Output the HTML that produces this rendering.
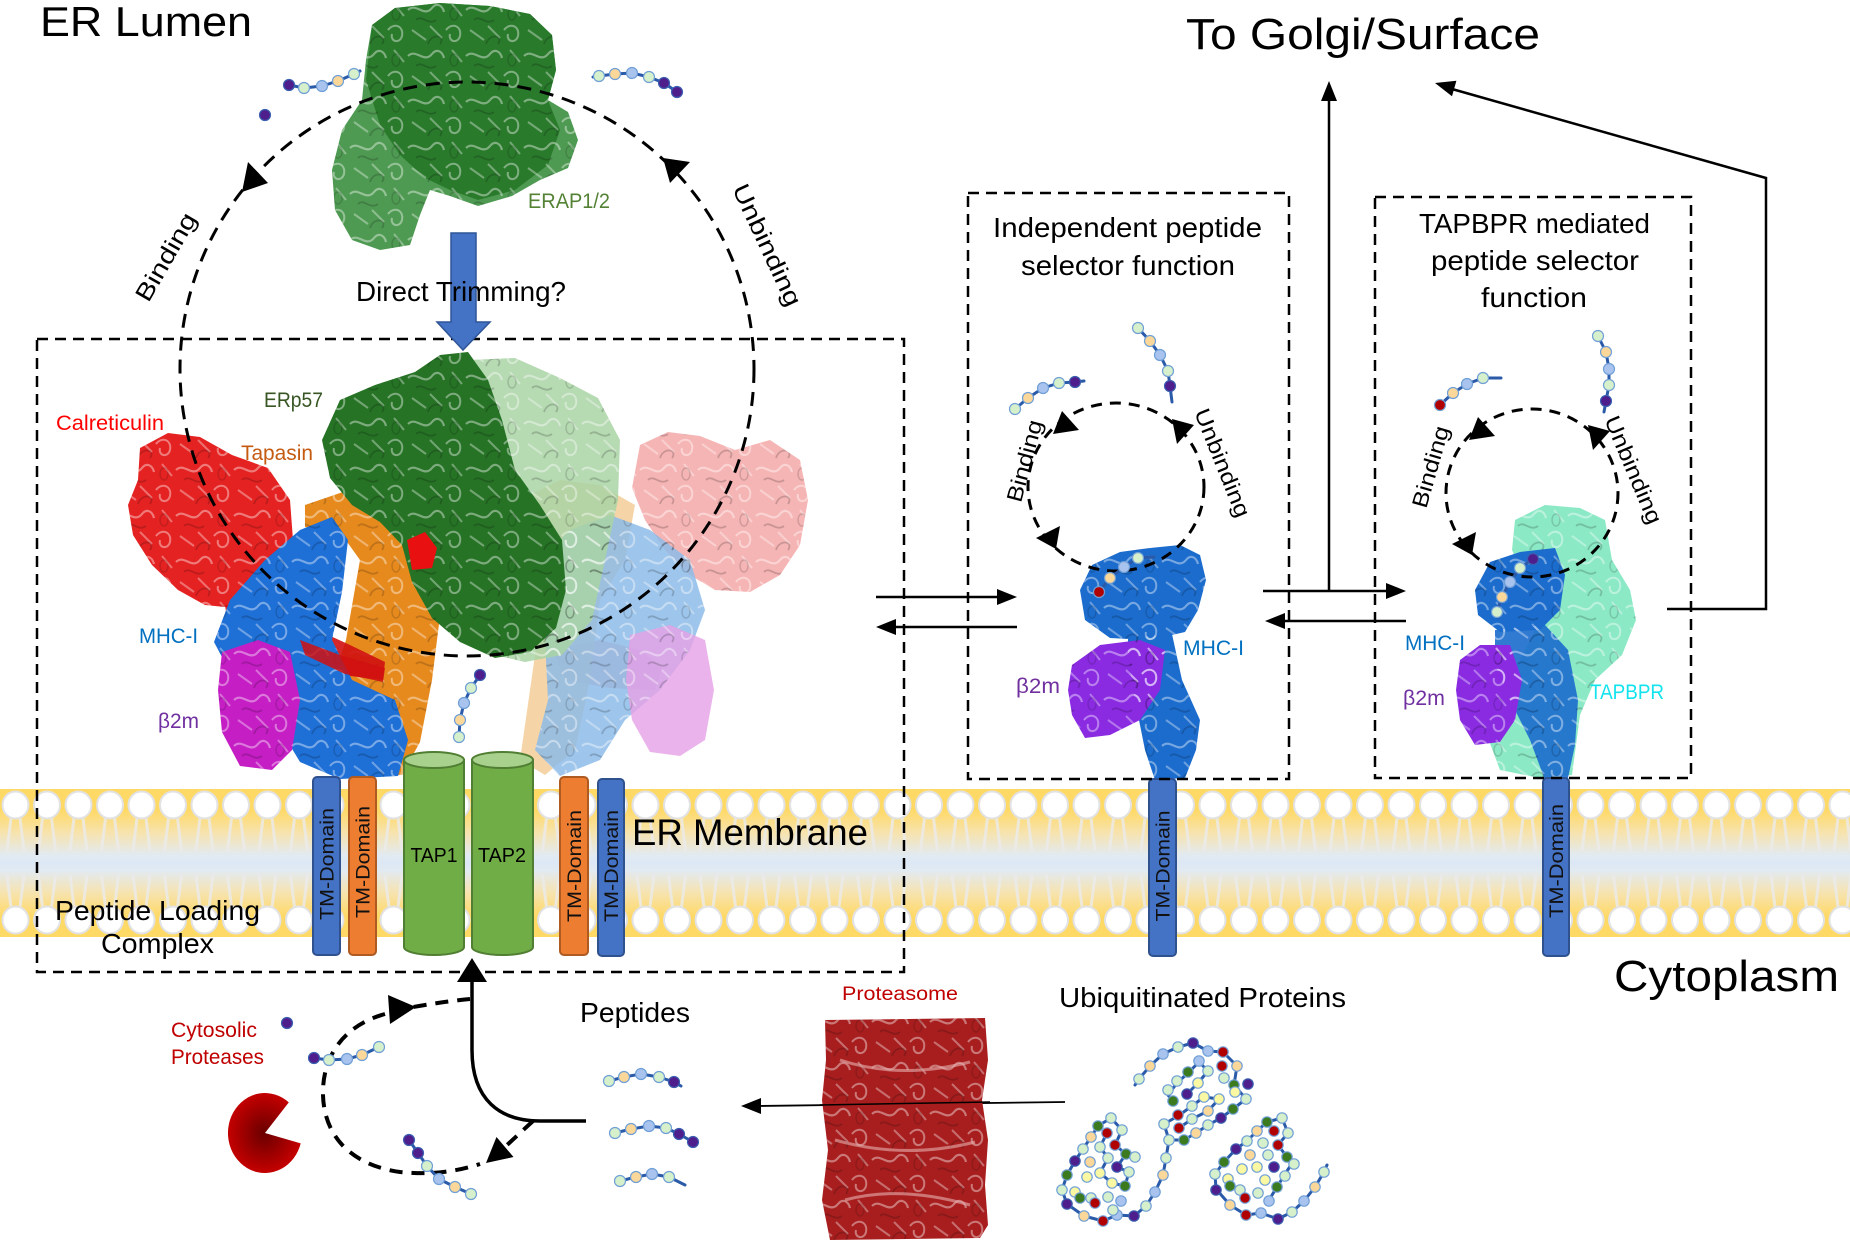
<!DOCTYPE html>
<html><head><meta charset="utf-8"><style>
html,body{margin:0;padding:0;background:#fff;}
svg{display:block;}
.lg{fill:#d6f0cc;stroke:#6f9fd6;stroke-width:1.2}
.pe{fill:#fbd89a;stroke:#6f9fd6;stroke-width:1.2}
.lb{fill:#a9c3ef;stroke:#6f9fd6;stroke-width:1.2}
.pu{fill:#4e1f8c;stroke:#3a5fb0;stroke-width:1.2}
.rd{fill:#b00000;stroke:#6f9fd6;stroke-width:1.2}
.dg{fill:#3b7a1f;stroke:#6f9fd6;stroke-width:1.2}
.ye{fill:#fbf8a4;stroke:#6f9fd6;stroke-width:1.2}
.ch{fill:none;stroke:#2a5aa8;stroke-width:3;stroke-linecap:round;stroke-linejoin:round}
.t{font-family:"Liberation Sans",sans-serif;}
</style></head><body>
<svg xmlns="http://www.w3.org/2000/svg" width="1850" height="1242" viewBox="0 0 1850 1242">
<defs>
<linearGradient id="mem" x1="0" y1="0" x2="0" y2="1">
<stop offset="0" stop-color="#ffd966"/><stop offset="0.14" stop-color="#ffd966"/>
<stop offset="0.3" stop-color="#f6e3b0"/><stop offset="0.45" stop-color="#e2eaf2"/>
<stop offset="0.5" stop-color="#dce8f5"/><stop offset="0.55" stop-color="#e2eaf2"/>
<stop offset="0.7" stop-color="#f6e3b0"/><stop offset="0.86" stop-color="#ffd966"/>
<stop offset="1" stop-color="#ffd966"/>
</linearGradient>
<pattern id="lip" patternUnits="userSpaceOnUse" x="0" y="789" width="31.5" height="148">
<line x1="11" y1="29" x2="7" y2="62" stroke="#ebebeb" stroke-width="3" opacity="0.8"/>
<line x1="20" y1="29" x2="24" y2="62" stroke="#ebebeb" stroke-width="3" opacity="0.8"/>
<line x1="11" y1="118" x2="7" y2="86" stroke="#ebebeb" stroke-width="3" opacity="0.8"/>
<line x1="20" y1="118" x2="24" y2="86" stroke="#ebebeb" stroke-width="3" opacity="0.8"/>
<ellipse cx="15.5" cy="16" rx="13" ry="13.5" fill="#fff" stroke="#e2e2e2" stroke-width="2"/>
<ellipse cx="15.5" cy="131" rx="13" ry="13.5" fill="#fff" stroke="#e2e2e2" stroke-width="2"/>
</pattern>
<pattern id="tex" patternUnits="userSpaceOnUse" width="58" height="46">
<path d="M2,10 C10,2 18,18 26,8 C30,3 36,4 38,12" fill="none" stroke="#fff" stroke-width="2.2" opacity="0.4"/>
<path d="M40,30 C46,22 56,26 54,36 C52,44 42,42 44,34" fill="none" stroke="#fff" stroke-width="2" opacity="0.4"/>
<path d="M6,30 L20,40 M24,26 L36,38 M46,4 L56,16" fill="none" stroke="#fff" stroke-width="2" opacity="0.35"/>
<path d="M10,20 C16,14 22,26 30,20 M34,44 C40,36 26,32 22,44" fill="none" stroke="#000" stroke-width="1.8" opacity="0.18"/>
<ellipse cx="48" cy="14" rx="4" ry="6" fill="none" stroke="#000" stroke-width="1.5" opacity="0.15"/>
</pattern>
<radialGradient id="pac" cx="0.5" cy="0.5" r="0.5">
<stop offset="0" stop-color="#6a0000"/><stop offset="1" stop-color="#c40000"/>
</radialGradient>
<path id="erap" d="M372,25 L395,8 L440,3 L490,6 L530,14 L552,35 L556,70 L548,100 L568,112 L578,140 L568,168 L540,180 L512,196 L478,206 L450,196 L430,190 L420,215 L410,245 L380,250 L352,240 L335,210 L332,170 L342,130 L362,100 L366,60 Z"/>
<path id="erapd" d="M372,25 L395,8 L440,3 L490,6 L530,14 L552,35 L556,70 L548,100 L560,130 L548,165 L515,190 L478,200 L450,190 L425,178 L400,155 L380,125 L366,80 Z"/>
<path id="calL" d="M140,448 L168,433 L200,437 L232,455 L268,468 L290,500 L293,540 L282,575 L262,598 L235,608 L205,605 L178,590 L152,565 L133,535 L128,505 L138,480 Z"/>
<path id="calB" d="M225,605 L255,603 L300,622 L350,645 L385,662 L383,680 L350,676 L300,658 L255,640 L228,625 Z"/>
<path id="erp" d="M340,400 L375,385 L415,372 L440,355 L468,352 L488,380 L502,420 L515,470 L540,505 L562,540 L566,590 L556,628 L530,652 L495,658 L460,642 L432,618 L412,582 L402,545 L380,522 L352,505 L330,478 L322,440 Z"/>
<path id="erpF" d="M468,360 L515,358 L560,378 L598,398 L620,440 L618,500 L605,560 L592,620 L562,655 L525,662 L495,655 L505,600 L520,540 L500,480 L480,420 Z"/>
<path id="tpn" d="M305,505 L340,493 L380,478 L420,482 L447,520 L442,600 L432,680 L420,742 L402,775 L360,776 L330,762 L312,732 L330,690 L346,640 L360,560 L340,532 L305,527 Z"/>
<path id="mhcL" d="M214,642 L230,600 L265,560 L300,530 L332,517 L348,540 L342,592 L332,640 L352,680 L395,700 L408,740 L398,776 L340,779 L300,762 L276,722 L256,692 L232,676 Z"/>
<path id="b2L" d="M222,652 L258,640 L290,652 L300,700 L292,750 L272,770 L240,766 L222,732 L218,690 Z"/>
<path id="calR" d="M640,445 L668,432 L700,436 L735,450 L770,440 L800,460 L808,500 L800,545 L780,575 L750,592 L715,590 L690,575 L665,550 L645,520 L632,488 Z"/>
<path id="tpnR" d="M520,500 L560,480 L600,485 L635,505 L625,560 L600,600 L590,680 L575,750 L545,775 L520,760 L530,690 L540,620 L530,560 Z"/>
<path id="mhcR" d="M540,560 L570,530 L610,515 L650,530 L690,560 L705,610 L690,650 L660,690 L625,720 L600,760 L560,776 L535,750 L548,700 L545,640 Z"/>
<path id="b2R" d="M630,635 L670,625 L705,640 L714,690 L705,740 L680,756 L650,752 L632,720 L626,680 Z"/>
<path id="iH" d="M1080,590 L1092,565 L1120,552 L1150,548 L1180,545 L1200,555 L1206,580 L1198,610 L1185,632 L1150,640 L1110,638 L1085,620 Z"/>
<path id="iL" d="M1128,638 L1172,634 L1182,680 L1200,720 L1196,750 L1185,778 L1155,780 L1145,750 L1135,700 L1128,660 Z"/>
<path id="iB" d="M1072,665 L1100,645 L1140,640 L1165,650 L1160,690 L1140,720 L1110,735 L1085,738 L1072,715 L1068,690 Z"/>
<path id="tA" d="M1515,520 L1545,505 L1580,508 L1605,520 L1612,560 L1630,590 L1636,620 L1622,655 L1595,680 L1580,715 L1572,775 L1540,778 L1500,770 L1485,730 L1495,690 L1520,660 L1540,620 L1525,580 L1512,550 Z"/>
<path id="tH" d="M1475,590 L1490,562 L1520,552 L1555,548 L1565,575 L1560,610 L1540,630 L1500,632 L1478,615 Z"/>
<path id="tL" d="M1495,630 L1545,625 L1568,650 L1578,700 L1575,745 L1568,778 L1545,780 L1530,740 L1510,700 L1495,665 Z"/>
<path id="tB" d="M1460,660 L1480,645 L1510,645 L1522,680 L1515,720 L1500,742 L1475,745 L1460,720 L1456,690 Z"/>
<path id="prot" d="M825,1020 L985,1018 L988,1060 L982,1100 L988,1140 L985,1185 L988,1225 L980,1238 L830,1240 L822,1200 L828,1150 L822,1100 L826,1060 Z"/>
</defs>

<!-- membrane -->
<rect x="0" y="789" width="1850" height="148" fill="url(#mem)"/>
<rect x="0" y="789" width="1850" height="148" fill="url(#lip)"/>

<!-- ERAP -->
<use href="#erap" fill="#4f9a52"/>
<use href="#erapd" fill="#2a7a2c"/>
<use href="#erap" fill="url(#tex)"/>

<!-- PLC faded right side -->
<use href="#calR" fill="#f4a3a3" opacity="0.8"/>
<path d="M553,650 L600,640 L640,650 L662,668 L655,690 L610,688 L565,680 Z" fill="#eba0a0" opacity="0.85"/>
<use href="#tpnR" fill="#f2c58a" opacity="0.75"/>
<use href="#mhcR" fill="#8dbbe8" opacity="0.85"/>
<use href="#b2R" fill="#e6a0e6" opacity="0.8"/>
<use href="#erpF" fill="#a9d4a4" opacity="0.85"/>
<use href="#calR" fill="url(#tex)"/>
<use href="#mhcR" fill="url(#tex)"/>
<use href="#erpF" fill="url(#tex)"/>
<!-- PLC left -->
<use href="#tpn" fill="#e68a1e"/>
<use href="#tpn" fill="url(#tex)"/>
<use href="#calL" fill="#e52222"/>
<use href="#calL" fill="url(#tex)"/>
<use href="#calB" fill="#d01010" opacity="0.9"/>
<use href="#mhcL" fill="#1e6fd6"/>
<use href="#mhcL" fill="url(#tex)"/>
<path d="M300,640 L340,655 L385,668 L383,682 L345,674 L305,655 Z" fill="#d01010" opacity="0.85"/>
<use href="#b2L" fill="#c41ec4"/>
<use href="#b2L" fill="url(#tex)"/>
<use href="#erp" fill="#267326"/>
<use href="#erp" fill="url(#tex)"/>
<path d="M407,540 L425,532 L437,548 L432,568 L412,570 Z" fill="#e81010"/>

<!-- independent MHC -->
<use href="#iL" fill="#1b6ccd"/>
<use href="#iB" fill="#8a2be2"/>
<use href="#iH" fill="#1b6ccd"/>
<use href="#iL" fill="url(#tex)"/><use href="#iB" fill="url(#tex)"/><use href="#iH" fill="url(#tex)"/>
<!-- TAPBPR MHC -->
<use href="#tA" fill="#6fe3b8" opacity="0.8"/>
<use href="#tA" fill="url(#tex)"/>
<use href="#tL" fill="#1b6ccd" opacity="0.9"/>
<use href="#tB" fill="#8a2be2"/>
<use href="#tH" fill="#1b6ccd"/>
<use href="#tL" fill="url(#tex)"/><use href="#tB" fill="url(#tex)"/><use href="#tH" fill="url(#tex)"/>

<!-- TM domains and TAP -->
<g stroke-width="2">
<rect x="313" y="777" width="27" height="178" rx="4" fill="#4472c4" stroke="#2f528f"/>
<rect x="349" y="777" width="27" height="178" rx="4" fill="#ed7d31" stroke="#ae5a21"/>
<rect x="560" y="777" width="28" height="178" rx="4" fill="#ed7d31" stroke="#ae5a21"/>
<rect x="598" y="779" width="26" height="177" rx="4" fill="#4472c4" stroke="#2f528f"/>
<rect x="1149" y="779" width="27" height="177" rx="4" fill="#4472c4" stroke="#2f528f"/>
<rect x="1543" y="778" width="26" height="178" rx="4" fill="#4472c4" stroke="#2f528f"/>
<path d="M404,760 L404,947 A30,8 0 0,0 464,947 L464,760 Z" fill="#70ad47" stroke="#507e32"/>
<ellipse cx="434" cy="760" rx="30" ry="8" fill="#a9d18e" stroke="#507e32"/>
<path d="M472,760 L472,947 A30.5,8 0 0,0 533,947 L533,760 Z" fill="#70ad47" stroke="#507e32"/>
<ellipse cx="502.5" cy="760" rx="30.5" ry="8" fill="#a9d18e" stroke="#507e32"/>
</g>

<!-- dashed boxes -->
<g fill="none" stroke="#000" stroke-width="2.5" stroke-dasharray="11 7">
<rect x="37" y="339" width="867" height="633"/>
<rect x="968" y="193" width="321" height="586"/>
<rect x="1375" y="197" width="316" height="581"/>
</g>

<!-- big dashed circle -->
<circle cx="467" cy="369" r="287" fill="none" stroke="#000" stroke-width="3" stroke-dasharray="14 9"/>
<polygon points="242,192 248,162 268,183" fill="#000"/>
<polygon points="663,158 690,162 670,183" fill="#000"/>

<!-- small dashed circles -->
<ellipse cx="1116" cy="487" rx="88" ry="84" fill="none" stroke="#000" stroke-width="3" stroke-dasharray="11 8"/>
<polygon points="1062,411 1053,434 1079,430" fill="#000"/>
<polygon points="1172,419 1177,444 1194,425" fill="#000"/>
<polygon points="1056,549 1036,538 1060,526" fill="#000"/>
<ellipse cx="1532" cy="493" rx="86" ry="84" fill="none" stroke="#000" stroke-width="3" stroke-dasharray="11 8"/>
<polygon points="1478,417 1469,440 1495,436" fill="#000"/>
<polygon points="1588,425 1593,450 1610,431" fill="#000"/>
<polygon points="1472,555 1452,544 1476,532" fill="#000"/>

<!-- blue arrow -->
<polygon points="451,233 476,233 476,322 490,322 463,350 437,322 451,322" fill="#4472c4" stroke="#2f5597" stroke-width="1.5"/>

<!-- solid arrows -->
<g stroke="#000" stroke-width="2.5" fill="none">
<line x1="876" y1="597" x2="1000" y2="597"/>
<line x1="1017" y1="627" x2="893" y2="627"/>
<line x1="1263" y1="591" x2="1390" y2="591"/>
<line x1="1406" y1="621" x2="1282" y2="621"/>
<line x1="1329" y1="591" x2="1329" y2="98"/>
<polyline points="1667,609 1766,609 1766,178 1452,89"/>
<line x1="1065" y1="1102" x2="758" y2="1106" stroke-width="1.8"/>
<path d="M586,1121 L540,1121 C500,1121 472,1100 472,1050 L472,980" stroke-width="3.5"/>
</g>
<g fill="#000">
<polygon points="1017,597 997,589 997,605"/>
<polygon points="876,627 896,619 896,635"/>
<polygon points="1406,591 1386,583 1386,599"/>
<polygon points="1265,621 1285,613 1285,629"/>
<polygon points="1329,81 1321,101 1337,101"/>
<polygon points="1435,83 1456.4,80.8 1452,96.2"/>
<polygon points="741,1106 761,1098 761,1114"/>
<polygon points="472,958 457,982 487,982"/>
</g>

<!-- dashed loop -->
<g fill="none" stroke="#000" stroke-width="4" stroke-dasharray="13 9">
<path d="M470,999 Q440,1002 408,1008"/>
<path d="M385,1014 C345,1025 322,1055 323,1095 C324,1135 350,1165 400,1172 C430,1175 455,1172 480,1164"/>
<path d="M533,1121 L506,1146"/>
</g>
<polygon points="416,1007 388,995 390,1024" fill="#000"/>
<polygon points="486,1163 513.5,1157 496.5,1137" fill="#000"/>

<!-- pacman -->
<path d="M265,1133 L288.8,1102.4 A37,40 0 1,0 300.7,1143.4 Z" fill="url(#pac)"/>

<!-- proteasome -->
<use href="#prot" fill="#a81e1e"/>
<use href="#prot" fill="url(#tex)"/>
<path d="M840,1060 Q900,1080 970,1062 M835,1140 Q905,1160 975,1142 M845,1200 Q900,1185 970,1205" fill="none" stroke="#e8b0b0" stroke-width="3" opacity="0.6"/>
<line x1="990" y1="1102" x2="820" y2="1105" stroke="#000" stroke-width="1.5"/>

<!-- peptides -->
<g>
<polyline class="ch" points="289,85 304,88 322,86 338,81 354,74 360,71"/>
<circle class="pu" cx="289" cy="85" r="5.5"/><circle class="lg" cx="304" cy="88" r="5.5"/><circle class="lb" cx="322" cy="86" r="5.5"/><circle class="pe" cx="338" cy="81" r="5.5"/><circle class="lg" cx="354" cy="74" r="5.5"/>
<circle class="pu" cx="265" cy="115" r="5.5"/>
<polyline class="ch" points="593,77 599,76 615,74 632,73 649,77 664,83 677,92"/>
<circle class="lg" cx="599" cy="76" r="5.5"/><circle class="pe" cx="615" cy="74" r="5.5"/><circle class="lb" cx="632" cy="73" r="5.5"/><circle class="lg" cx="649" cy="77" r="5.5"/><circle class="pu" cx="664" cy="83" r="5.5"/><circle class="pu" cx="677" cy="92" r="5.5"/>
<polyline class="ch" points="480,675 471,688 464,703 460,720 459,737"/>
<circle class="pu" cx="480" cy="675" r="5.5"/><circle class="lg" cx="471" cy="688" r="5.5"/><circle class="lb" cx="464" cy="703" r="5.5"/><circle class="pe" cx="460" cy="720" r="5.5"/><circle class="lg" cx="459" cy="737" r="5.5"/>

<polyline class="ch" points="1015,409 1028,398 1043,388 1059,383 1075,382 1084,381"/>
<circle class="lg" cx="1015" cy="409" r="5.5"/><circle class="pe" cx="1028" cy="398" r="5.5"/><circle class="lb" cx="1043" cy="388" r="5.5"/><circle class="lg" cx="1059" cy="383" r="5.5"/><circle class="pu" cx="1075" cy="382" r="5.5"/>
<polyline class="ch" points="1138,328 1150,341 1160,355 1168,371 1170,386 1172,402"/>
<circle class="lg" cx="1138" cy="328" r="5.5"/><circle class="pe" cx="1150" cy="341" r="5.5"/><circle class="lb" cx="1160" cy="355" r="5.5"/><circle class="lg" cx="1168" cy="371" r="5.5"/><circle class="pu" cx="1170" cy="386" r="5.5"/>
<polyline class="ch" points="1099,592 1110,578 1124,567 1138,558 1154,557"/>
<circle class="rd" cx="1099" cy="592" r="5.5"/><circle class="pe" cx="1110" cy="578" r="5.5"/><circle class="lb" cx="1124" cy="567" r="5.5"/><circle class="lg" cx="1138" cy="558" r="5.5"/>

<polyline class="ch" points="1440,405 1453,393 1467,384 1483,378 1501,378"/>
<circle class="rd" cx="1440" cy="405" r="5.5"/><circle class="pe" cx="1453" cy="393" r="5.5"/><circle class="lb" cx="1467" cy="384" r="5.5"/><circle class="lg" cx="1483" cy="378" r="5.5"/>
<polyline class="ch" points="1598,336 1606,352 1609,369 1609,385 1606,401 1604,412"/>
<circle class="lg" cx="1598" cy="336" r="5.5"/><circle class="pe" cx="1606" cy="352" r="5.5"/><circle class="lb" cx="1609" cy="369" r="5.5"/><circle class="lg" cx="1609" cy="385" r="5.5"/><circle class="pu" cx="1606" cy="401" r="5.5"/>
<polyline class="ch" points="1533,559 1520,568 1510,582 1502,597 1497,612"/>
<circle class="pu" cx="1533" cy="559" r="5.5"/><circle class="lg" cx="1520" cy="568" r="5.5"/><circle class="lb" cx="1510" cy="582" r="5.5"/><circle class="pe" cx="1502" cy="597" r="5.5"/><circle class="lg" cx="1497" cy="612" r="5.5"/>

<circle class="pu" cx="287" cy="1023" r="5.5"/>
<polyline class="ch" points="314,1058 329,1060 347,1059 362,1055 379,1047"/>
<circle class="pu" cx="314" cy="1058" r="5.5"/><circle class="lg" cx="329" cy="1060" r="5.5"/><circle class="lb" cx="347" cy="1059" r="5.5"/><circle class="pe" cx="362" cy="1055" r="5.5"/><circle class="lg" cx="379" cy="1047" r="5.5"/>
<polyline class="ch" points="409,1140 418,1153 427,1166 439,1179 455,1187 471,1194"/>
<circle class="pu" cx="409" cy="1140" r="5.5"/><circle class="pu" cx="418" cy="1153" r="5.5"/><circle class="lg" cx="427" cy="1166" r="5.5"/><circle class="lb" cx="439" cy="1179" r="5.5"/><circle class="pe" cx="455" cy="1187" r="5.5"/><circle class="lg" cx="471" cy="1194" r="5.5"/>
<polyline class="ch" points="609,1081 624,1077 641,1074 659,1077 674,1082 681,1086"/>
<circle class="lg" cx="609" cy="1081" r="5.5"/><circle class="pe" cx="624" cy="1077" r="5.5"/><circle class="lb" cx="641" cy="1074" r="5.5"/><circle class="lg" cx="659" cy="1077" r="5.5"/><circle class="pu" cx="674" cy="1082" r="5.5"/>
<polyline class="ch" points="615,1133 631,1129 649,1126 666,1128 679,1134 693,1142"/>
<circle class="lg" cx="615" cy="1133" r="5.5"/><circle class="pe" cx="631" cy="1129" r="5.5"/><circle class="lb" cx="649" cy="1126" r="5.5"/><circle class="lg" cx="666" cy="1128" r="5.5"/><circle class="pu" cx="679" cy="1134" r="5.5"/><circle class="pu" cx="693" cy="1142" r="5.5"/>
<polyline class="ch" points="620,1181 636,1177 652,1174 669,1177 685,1185"/>
<circle class="lg" cx="620" cy="1181" r="5.5"/><circle class="pe" cx="636" cy="1177" r="5.5"/><circle class="lb" cx="652" cy="1174" r="5.5"/><circle class="lg" cx="669" cy="1177" r="5.5"/>
</g>

<!-- ubiquitinated proteins -->
<g>
<polyline class="ch" points="1135,1085 1139,1079 1150,1066 1163,1054 1178,1047 1193,1043 1208,1051 1223,1052 1237,1066 1234,1085 1246,1099 1233,1109 1221,1118 1208,1125 1196,1133 1184,1140 1169,1140 1164,1124 1178,1116 1192,1106 1204,1097 1219,1099 1208,1111 1192,1119 1179,1128"/>
<polyline class="ch" points="1173,1101 1168,1095 1177,1083 1188,1073 1199,1062 1208,1071 1198,1083 1187,1094"/>
<polyline class="ch" points="1169,1140 1166,1158 1163,1175 1155,1192 1146,1206 1134,1216 1117,1215 1103,1221 1084,1216 1067,1204 1062,1190 1067,1175 1075,1161 1083,1149 1091,1137 1098,1126 1111,1118 1122,1130 1115,1145 1126,1154 1117,1167 1129,1172 1125,1186 1112,1183 1100,1173 1108,1158 1100,1147 1107,1133"/>
<polyline class="ch" points="1327,1165 1324,1172 1315,1187 1304,1201 1292,1212 1278,1219 1261,1213 1246,1215 1230,1205 1216,1189 1215,1174 1224,1162 1236,1149 1247,1141 1257,1131 1267,1122 1282,1118 1288,1133 1278,1145 1287,1157 1293,1162 1285,1174 1277,1187 1269,1200"/>
<g>
<circle class="lg" cx="1139" cy="1079" r="5.2"/><circle class="pe" cx="1150" cy="1066" r="5.2"/><circle class="lb" cx="1163" cy="1054" r="5.2"/><circle class="lg" cx="1178" cy="1047" r="5.2"/><circle class="pu" cx="1193" cy="1043" r="5.2"/><circle class="lb" cx="1208" cy="1051" r="5.2"/><circle class="rd" cx="1223" cy="1052" r="5.2"/><circle class="pe" cx="1237" cy="1066" r="5.2"/><circle class="rd" cx="1222" cy="1066" r="5.2"/><circle class="lg" cx="1224" cy="1078" r="5.2"/><circle class="dg" cx="1234" cy="1085" r="5.2"/><circle class="pu" cx="1248" cy="1084" r="5.2"/><circle class="ye" cx="1235" cy="1092" r="5.2"/><circle class="lg" cx="1246" cy="1099" r="5.2"/><circle class="dg" cx="1233" cy="1109" r="5.2"/><circle class="pu" cx="1221" cy="1118" r="5.2"/><circle class="lg" cx="1208" cy="1125" r="5.2"/><circle class="pe" cx="1196" cy="1133" r="5.2"/><circle class="dg" cx="1184" cy="1140" r="5.2"/><circle class="lg" cx="1169" cy="1140" r="5.2"/><circle class="lg" cx="1164" cy="1124" r="5.2"/><circle class="rd" cx="1179" cy="1128" r="5.2"/><circle class="rd" cx="1178" cy="1115" r="5.2"/><circle class="lg" cx="1192" cy="1119" r="5.2"/><circle class="lg" cx="1192" cy="1106" r="5.2"/><circle class="ye" cx="1204" cy="1097" r="5.2"/><circle class="ye" cx="1219" cy="1099" r="5.2"/><circle class="pe" cx="1208" cy="1111" r="5.2"/><circle class="pu" cx="1187" cy="1094" r="5.2"/><circle class="dg" cx="1173" cy="1101" r="5.2"/><circle class="lg" cx="1168" cy="1090" r="5.2"/><circle class="lg" cx="1177" cy="1081" r="5.2"/><circle class="ye" cx="1198" cy="1083" r="5.2"/><circle class="dg" cx="1188" cy="1072" r="5.2"/><circle class="lg" cx="1208" cy="1071" r="5.2"/><circle class="lb" cx="1199" cy="1061" r="5.2"/>
<circle class="lg" cx="1166" cy="1158" r="5.2"/><circle class="pe" cx="1163" cy="1175" r="5.2"/><circle class="lb" cx="1155" cy="1192" r="5.2"/><circle class="lg" cx="1146" cy="1206" r="5.2"/><circle class="pu" cx="1134" cy="1216" r="5.2"/><circle class="lb" cx="1117" cy="1215" r="5.2"/>
<circle class="lg" cx="1111" cy="1118" r="5.2"/><circle class="dg" cx="1098" cy="1126" r="5.2"/><circle class="lg" cx="1122" cy="1130" r="5.2"/><circle class="rd" cx="1107" cy="1133" r="5.2"/><circle class="pe" cx="1091" cy="1137" r="5.2"/><circle class="rd" cx="1115" cy="1145" r="5.2"/><circle class="lg" cx="1100" cy="1147" r="5.2"/><circle class="lg" cx="1083" cy="1149" r="5.2"/><circle class="dg" cx="1126" cy="1154" r="5.2"/><circle class="lg" cx="1135" cy="1157" r="5.2"/><circle class="lg" cx="1108" cy="1158" r="5.2"/><circle class="pe" cx="1090" cy="1162" r="5.2"/><circle class="pu" cx="1075" cy="1161" r="5.2"/><circle class="pu" cx="1117" cy="1167" r="5.2"/><circle class="lg" cx="1129" cy="1172" r="5.2"/><circle class="ye" cx="1100" cy="1173" r="5.2"/><circle class="ye" cx="1087" cy="1177" r="5.2"/><circle class="dg" cx="1067" cy="1175" r="5.2"/><circle class="ye" cx="1112" cy="1183" r="5.2"/><circle class="dg" cx="1125" cy="1186" r="5.2"/><circle class="lg" cx="1062" cy="1190" r="5.2"/><circle class="ye" cx="1075" cy="1192" r="5.2"/><circle class="dg" cx="1080" cy="1198" r="5.2"/><circle class="lg" cx="1091" cy="1198" r="5.2"/><circle class="lg" cx="1108" cy="1197" r="5.2"/><circle class="lb" cx="1121" cy="1201" r="5.2"/><circle class="rd" cx="1095" cy="1203" r="5.2"/><circle class="pu" cx="1067" cy="1204" r="5.2"/><circle class="lg" cx="1113" cy="1210" r="5.2"/><circle class="pe" cx="1084" cy="1216" r="5.2"/><circle class="rd" cx="1103" cy="1221" r="5.2"/>
<circle class="lg" cx="1282" cy="1118" r="5.2"/><circle class="dg" cx="1267" cy="1122" r="5.2"/><circle class="pe" cx="1257" cy="1131" r="5.2"/><circle class="rd" cx="1274" cy="1131" r="5.2"/><circle class="lg" cx="1288" cy="1133" r="5.2"/><circle class="lg" cx="1247" cy="1141" r="5.2"/><circle class="lg" cx="1263" cy="1143" r="5.2"/><circle class="rd" cx="1278" cy="1145" r="5.2"/><circle class="pu" cx="1236" cy="1149" r="5.2"/><circle class="pe" cx="1250" cy="1155" r="5.2"/><circle class="lg" cx="1268" cy="1155" r="5.2"/><circle class="dg" cx="1287" cy="1157" r="5.2"/><circle class="lg" cx="1294" cy="1164" r="5.2"/><circle class="dg" cx="1224" cy="1162" r="5.2"/><circle class="ye" cx="1242" cy="1169" r="5.2"/><circle class="ye" cx="1257" cy="1167" r="5.2"/><circle class="pu" cx="1274" cy="1167" r="5.2"/><circle class="lg" cx="1285" cy="1176" r="5.2"/><circle class="lg" cx="1215" cy="1174" r="5.2"/><circle class="ye" cx="1228" cy="1179" r="5.2"/><circle class="ye" cx="1265" cy="1180" r="5.2"/><circle class="dg" cx="1277" cy="1187" r="5.2"/><circle class="dg" cx="1230" cy="1186" r="5.2"/><circle class="pu" cx="1216" cy="1190" r="5.2"/><circle class="lg" cx="1240" cy="1190" r="5.2"/><circle class="rd" cx="1245" cy="1198" r="5.2"/><circle class="lg" cx="1258" cy="1193" r="5.2"/><circle class="lb" cx="1269" cy="1201" r="5.2"/><circle class="pe" cx="1230" cy="1205" r="5.2"/><circle class="rd" cx="1246" cy="1215" r="5.2"/><circle class="lb" cx="1261" cy="1213" r="5.2"/><circle class="pu" cx="1278" cy="1219" r="5.2"/><circle class="lg" cx="1292" cy="1212" r="5.2"/><circle class="lb" cx="1304" cy="1201" r="5.2"/><circle class="pe" cx="1315" cy="1187" r="5.2"/><circle class="lg" cx="1324" cy="1172" r="5.2"/>
</g>
</g>

<!-- texts -->
<g class="t" fill="#000">
<text x="40" y="36" font-size="42" textLength="212" lengthAdjust="spacingAndGlyphs">ER Lumen</text>
<text x="1186" y="49" font-size="44" textLength="354" lengthAdjust="spacingAndGlyphs">To Golgi/Surface</text>
<text x="1614" y="991" font-size="44" textLength="225" lengthAdjust="spacingAndGlyphs">Cytoplasm</text>
<text x="632" y="845" font-size="37" textLength="236" lengthAdjust="spacingAndGlyphs">ER Membrane</text>
<text x="356" y="301" font-size="28" textLength="210" lengthAdjust="spacingAndGlyphs">Direct Trimming?</text>
<text x="993" y="237" font-size="28" textLength="269" lengthAdjust="spacingAndGlyphs">Independent peptide</text>
<text x="1021" y="275" font-size="28" textLength="214" lengthAdjust="spacingAndGlyphs">selector function</text>
<text x="1419" y="233" font-size="28" textLength="231" lengthAdjust="spacingAndGlyphs">TAPBPR mediated</text>
<text x="1431" y="270" font-size="28" textLength="208" lengthAdjust="spacingAndGlyphs">peptide selector</text>
<text x="1481" y="307" font-size="28" textLength="106" lengthAdjust="spacingAndGlyphs">function</text>
<text x="55" y="920" font-size="28" textLength="205" lengthAdjust="spacingAndGlyphs">Peptide Loading</text>
<text x="101" y="953" font-size="28" textLength="113" lengthAdjust="spacingAndGlyphs">Complex</text>
<text x="580" y="1022" font-size="28" textLength="110" lengthAdjust="spacingAndGlyphs">Peptides</text>
<text x="1059" y="1007" font-size="28" textLength="287" lengthAdjust="spacingAndGlyphs">Ubiquitinated Proteins</text>
<text x="434" y="862" font-size="20" text-anchor="middle" textLength="47" lengthAdjust="spacingAndGlyphs">TAP1</text>
<text x="502" y="862" font-size="20" text-anchor="middle" textLength="48" lengthAdjust="spacingAndGlyphs">TAP2</text>
<g font-size="19" fill="#111">
<text transform="translate(326.5,864) rotate(-90)" y="7" text-anchor="middle" textLength="112" lengthAdjust="spacingAndGlyphs">TM-Domain</text>
<text transform="translate(362.5,862) rotate(-90)" y="7" text-anchor="middle" textLength="112" lengthAdjust="spacingAndGlyphs">TM-Domain</text>
<text transform="translate(574,866) rotate(-90)" y="7" text-anchor="middle" textLength="112" lengthAdjust="spacingAndGlyphs">TM-Domain</text>
<text transform="translate(611,866) rotate(-90)" y="7" text-anchor="middle" textLength="112" lengthAdjust="spacingAndGlyphs">TM-Domain</text>
<text transform="translate(1162.5,866) rotate(-90)" y="7" text-anchor="middle" textLength="111" lengthAdjust="spacingAndGlyphs">TM-Domain</text>
<text transform="translate(1556,861) rotate(-90)" y="7" text-anchor="middle" textLength="114" lengthAdjust="spacingAndGlyphs">TM-Domain</text>
</g>
<text transform="translate(166,257) rotate(-60)" y="8" font-size="24" text-anchor="middle" textLength="98" lengthAdjust="spacingAndGlyphs">Binding</text>
<text transform="translate(767,245) rotate(65)" y="8" font-size="24" text-anchor="middle" textLength="132" lengthAdjust="spacingAndGlyphs">Unbinding</text>
<text transform="translate(1025,461) rotate(-75)" y="7" font-size="22" text-anchor="middle" textLength="84" lengthAdjust="spacingAndGlyphs">Binding</text>
<text transform="translate(1222,463) rotate(68)" y="7" font-size="22" text-anchor="middle" textLength="115" lengthAdjust="spacingAndGlyphs">Unbinding</text>
<text transform="translate(1431,467) rotate(-74)" y="7" font-size="22" text-anchor="middle" textLength="84" lengthAdjust="spacingAndGlyphs">Binding</text>
<text transform="translate(1633,470) rotate(67)" y="7" font-size="22" text-anchor="middle" textLength="115" lengthAdjust="spacingAndGlyphs">Unbinding</text>
</g>
<g class="t" font-size="21">
<text x="56" y="430" fill="#ff0000" textLength="108" lengthAdjust="spacingAndGlyphs">Calreticulin</text>
<text x="264" y="407" fill="#375623" textLength="59" lengthAdjust="spacingAndGlyphs">ERp57</text>
<text x="241" y="460" fill="#c55a11" textLength="72" lengthAdjust="spacingAndGlyphs">Tapasin</text>
<text x="139" y="643" fill="#0070c0" textLength="59" lengthAdjust="spacingAndGlyphs">MHC-I</text>
<text x="158" y="728" fill="#7030a0" textLength="41" lengthAdjust="spacingAndGlyphs">β2m</text>
<text x="528" y="208" fill="#548235" textLength="82" lengthAdjust="spacingAndGlyphs">ERAP1/2</text>
<text x="1183" y="655" fill="#0070c0" textLength="61" lengthAdjust="spacingAndGlyphs">MHC-I</text>
<text x="1016" y="693" fill="#7030a0" textLength="44" lengthAdjust="spacingAndGlyphs">β2m</text>
<text x="1405" y="650" fill="#0070c0" textLength="60" lengthAdjust="spacingAndGlyphs">MHC-I</text>
<text x="1403" y="705" fill="#7030a0" textLength="42" lengthAdjust="spacingAndGlyphs">β2m</text>
<text x="1590" y="699" fill="#12e4ee" textLength="74" lengthAdjust="spacingAndGlyphs">TAPBPR</text>
<text x="171" y="1037" fill="#c00000" textLength="86" lengthAdjust="spacingAndGlyphs">Cytosolic</text>
<text x="171" y="1064" fill="#c00000" textLength="93" lengthAdjust="spacingAndGlyphs">Proteases</text>
<text x="842" y="1000" font-size="19" fill="#c00000" textLength="116" lengthAdjust="spacingAndGlyphs">Proteasome</text>
</g>
</svg>
</body></html>
